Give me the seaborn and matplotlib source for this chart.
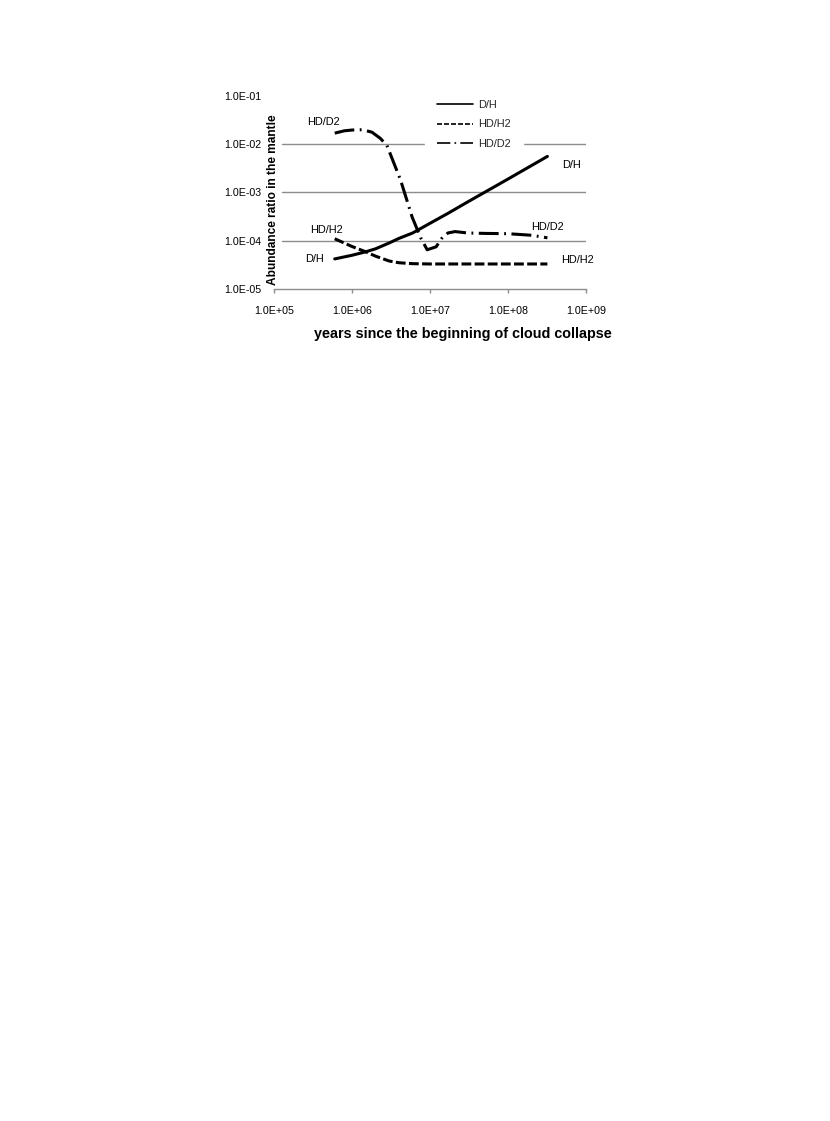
import numpy as np
import pandas as pd
import matplotlib
matplotlib.use("Agg")
import matplotlib.pyplot as plt
from matplotlib.lines import Line2D
import seaborn as sns

sns.set_theme(style="white")
plt.rcParams['font.family'] = ['Liberation Sans', 'DejaVu Sans']

# ---- data ----
dh_years = [6e5, 1e6, 1.5e6, 2e6, 3e6, 4e6, 6e6, 1e7, 1.7e7, 3e7, 1e8, 3.2e8]
dh_ratio = [4.2e-5, 5.0e-5, 5.9e-5, 6.8e-5, 9.0e-5, 1.12e-4, 1.45e-4, 2.3e-4,
            3.7e-4, 6.3e-4, 1.9e-3, 5.6e-3]

hdh2_years = [6e5, 1e6, 1.5e6, 2e6, 3e6, 4e6, 6e6, 1e7, 2e7, 5e7, 1e8, 3.2e8]
hdh2_ratio = [1.1e-4, 7.6e-5, 5.9e-5, 4.8e-5, 3.8e-5, 3.5e-5, 3.35e-5, 3.3e-5,
              3.3e-5, 3.3e-5, 3.3e-5, 3.3e-5]

hdd2_years = [6e5, 8e5, 1e6, 1.35e6, 1.8e6, 2.3e6, 2.8e6, 4.2e6, 5.9e6, 7.6e6,
              9.2e6, 1.2e7, 1.4e7, 1.7e7, 2.1e7, 3e7, 5e7, 1e8, 2e8, 3.2e8]
hdd2_ratio = [1.7e-2, 1.9e-2, 1.97e-2, 2.0e-2, 1.78e-2, 1.33e-2, 9.5e-3, 1.8e-3,
              3.1e-4, 1.15e-4, 6.5e-5, 7.5e-5, 1.1e-4, 1.45e-4, 1.55e-4, 1.45e-4,
              1.42e-4, 1.4e-4, 1.3e-4, 1.15e-4]

series_names = ["D/H", "HD/H2", "HD/D2"]
x_ticks = [1e5, 1e6, 1e7, 1e8, 1e9]
x_ticklabels = ["1.0E+05", "1.0E+06", "1.0E+07", "1.0E+08", "1.0E+09"]
y_ticks = [1e-5, 1e-4, 1e-3, 1e-2, 1e-1]
y_ticklabels = ["1.0E-05", "1.0E-04", "1.0E-03", "1.0E-02", "1.0E-01"]

df = pd.concat([
    pd.DataFrame({"years": dh_years, "ratio": dh_ratio, "series": "D/H"}),
    pd.DataFrame({"years": hdh2_years, "ratio": hdh2_ratio, "series": "HD/H2"}),
    pd.DataFrame({"years": hdd2_years, "ratio": hdd2_ratio, "series": "HD/D2"}),
], ignore_index=True)

fig = plt.figure(figsize=(8.30, 11.21), dpi=100)
L, R, T, B = 274, 586, 96, 289
W, H = 830, 1121
ax = fig.add_axes([L / W, 1 - B / H, (R - L) / W, (B - T) / H])

dash_map = {"D/H": "", "HD/H2": (3.2, 1.1), "HD/D2": (6.5, 1.8, 0.6, 1.8)}
sns.lineplot(data=df, x="years", y="ratio", style="series", dashes=dash_map,
             color="black", linewidth=2.2, legend=False, ax=ax, sort=False,
             estimator=None)

ax.set_xscale("log")
ax.set_yscale("log")
ax.set_xlim(1e5, 1e9)
ax.set_ylim(1e-5, 1e-1)

# gridlines (Excel style, slightly inset from left)
for yv in y_ticks[1:4]:
    ax.axhline(yv, xmin=0.026, xmax=1.0, color="#8c8c8c", lw=1.0, zorder=0)

for s in ["top", "right", "left"]:
    ax.spines[s].set_visible(False)
ax.spines["bottom"].set_color("#8c8c8c")
ax.spines["bottom"].set_linewidth(1.0)

ax.set_xticks(x_ticks)
ax.set_xticklabels(x_ticklabels)
ax.set_yticks(y_ticks)
ax.set_yticklabels(y_ticklabels)
ax.minorticks_off()
ax.tick_params(axis="x", length=3, width=1, color="#8c8c8c", direction="out",
               pad=9, labelsize=7.7, labelcolor="black", bottom=True)
ax.tick_params(axis="y", length=0, pad=9, labelsize=7.7, labelcolor="black")

ax.set_xlabel("years since the beginning of cloud collapse", fontsize=10.4,
              fontweight="bold", color="black")
ax.xaxis.set_label_coords(0.604, -0.195)
ax.set_ylabel("Abundance ratio in the mantle", fontsize=8.6,
              fontweight="bold", color="black")
ax.yaxis.set_label_coords(0.015, 0.461)

# series labels
lab = dict(fontsize=7.9, color="black", transform=ax.transAxes,
           ha="center", va="center")
ax.text(0.160, 0.865, "HD/D2", **lab)
ax.text(0.955, 0.642, "D/H", **lab)
ax.text(0.167, 0.306, "HD/H2", **lab)
ax.text(0.131, 0.155, "D/H", **lab)
ax.text(0.875, 0.321, "HD/D2", **lab)
ax.text(0.971, 0.150, "HD/H2", **lab)

handles = [
    Line2D([], [], color="black", lw=1.2, linestyle="-"),
    Line2D([], [], color="black", lw=1.2, linestyle=(0, (3.0, 1.2))),
    Line2D([], [], color="black", lw=1.2, linestyle=(0, (8, 2.5, 1, 2.5))),
]
leg = ax.legend(handles, series_names, loc="upper left",
                bbox_to_anchor=(0.484, 1.044), frameon=True, fontsize=7.9,
                handlelength=3.3, handletextpad=0.45, labelspacing=0.9,
                borderpad=1.1, borderaxespad=0)
leg.get_frame().set_facecolor("white")
leg.get_frame().set_edgecolor("white")
leg.get_frame().set_alpha(1.0)

fig.savefig("out.png", dpi=100, facecolor="white")
